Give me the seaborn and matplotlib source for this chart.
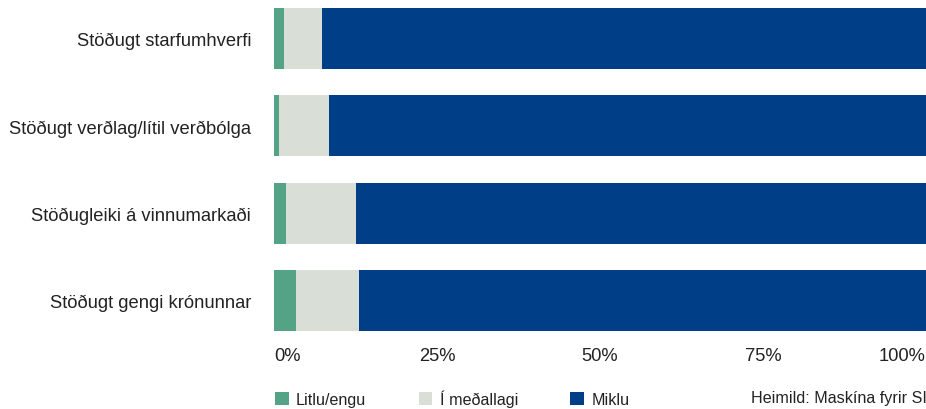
import matplotlib
matplotlib.use("Agg")
import matplotlib.pyplot as plt
from matplotlib.patches import Patch
from matplotlib.transforms import ScaledTranslation
import seaborn as sns
import pandas as pd
import numpy as np

categories = ["Stöðugt starfumhverfi", "Stöðugt verðlag/lítil verðbólga",
              "Stöðugleiki á vinnumarkaði", "Stöðugt gengi krónunnar"]
litlu_engu = [1.5, 0.8, 1.8, 3.3]
i_medallagi = [5.9, 7.6, 10.7, 9.8]
miklu = [92.6, 91.6, 87.5, 86.9]
series_names = ["Litlu/engu", "Í meðallagi", "Miklu"]
tick_values = [0, 25, 50, 75, 100]
tick_labels = ["0%", "25%", "50%", "75%", "100%"]
source_text = "Heimild: Maskína fyrir SI"

colors = ["#55a386", "#d9ded7", "#003f87"]

sns.set_theme(style="white")
plt.rcParams["font.family"] = ["Liberation Sans", "DejaVu Sans"]

W, H = 926, 410
fig = plt.figure(figsize=(W / 100, H / 100), dpi=100)
ax_left, ax_right = 274 / W, 926 / W
ax_top_px, ax_bot_px = 0, 340
ax = fig.add_axes([ax_left, 1 - ax_bot_px / H, ax_right - ax_left, (ax_bot_px - ax_top_px) / H])

a = np.array(litlu_engu)
b = np.array(i_medallagi)
c = np.array(miklu)
df = pd.DataFrame({
    "cat": categories,
    "s1": a,
    "s2": a + b,
    "s3": a + b + c,
})

for col, colr in zip(["s3", "s2", "s1"], [colors[2], colors[1], colors[0]]):
    sns.barplot(data=df, x=col, y="cat", color=colr, orient="h", width=0.70,
                saturation=1, ax=ax, linewidth=0)

ax.set_xlim(0, 100)
ax.set_ylim(3.446, -0.457)
ax.set_xlabel("")
ax.set_ylabel("")
for s in ax.spines.values():
    s.set_visible(False)
ax.set_xticks(tick_values)
ax.set_xticklabels(tick_labels, fontsize=13.2, color="#222222")
labs = ax.get_xticklabels()
labs[0].set_horizontalalignment("left")
labs[-1].set_horizontalalignment("right")
# small label shifts as in the reference
shifts_px = [0, 5, 6, -6, 0]
for lab, dx in zip(labs, shifts_px):
    lab.set_transform(lab.get_transform() + ScaledTranslation(dx / 100, 0, fig.dpi_scale_trans))
ax.tick_params(axis="x", length=0, pad=6)
ax.tick_params(axis="y", length=0, pad=16.5, labelsize=13.2, labelcolor="#222222")
ax.grid(False)

handles = [Patch(facecolor=colors[i], edgecolor="none", label=series_names[i]) for i in range(3)]
fig.legend(handles=handles, loc="center left", bbox_to_anchor=(275 / W, 1 - 399 / H),
           ncol=3, frameon=False, fontsize=11.6, borderpad=0, borderaxespad=0,
           handlelength=0.85, handleheight=0.85, handletextpad=0.45, columnspacing=3.25,
           labelcolor="#222222")
fig.text(751 / W, 1 - 399 / H, source_text, fontsize=11.6, va="center", ha="left", color="#222222")

fig.savefig("out.png", dpi=100)
